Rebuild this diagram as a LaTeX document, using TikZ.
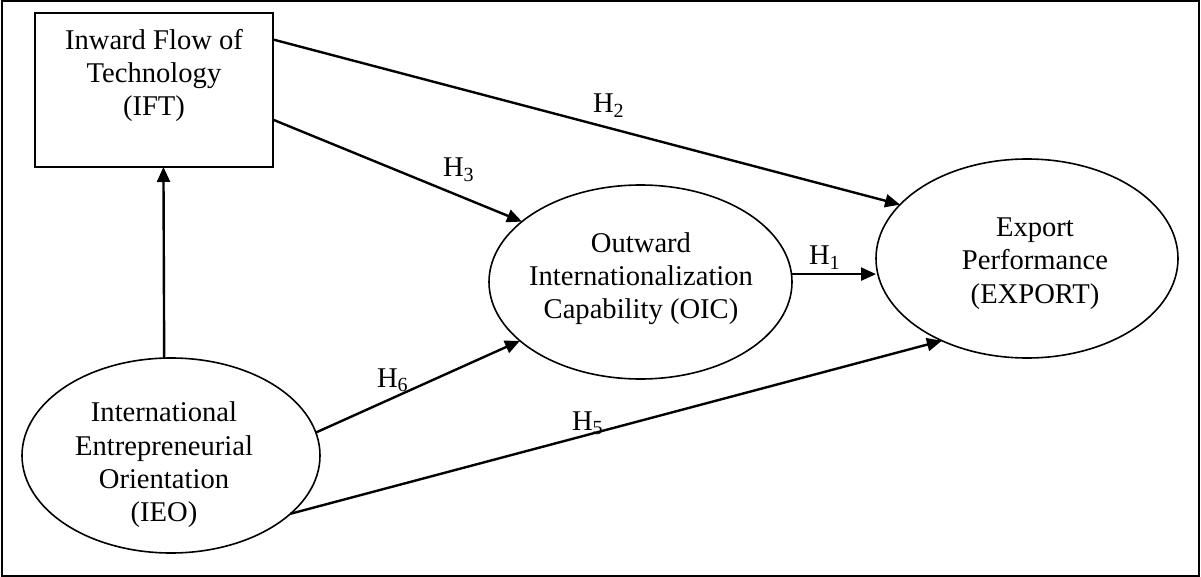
\documentclass[tikz,border=0pt]{standalone}
\usepackage{fontspec}
\setmainfont{Liberation Serif}
\usetikzlibrary{arrows.meta,shapes.geometric}
\begin{document}
\begin{tikzpicture}[x=1pt,y=-1pt,
  every node/.style={inner sep=0pt,outer sep=0pt},
  txt/.style={align=center,font=\fontsize{28.6}{33.2}\selectfont},
  hlab/.style={anchor=base west,font=\fontsize{28.6}{33.2}\selectfont},
  oval/.style={draw,ellipse,line width=1.6pt},
  arr/.style={line width=2.4pt,-{Triangle[length=15pt,width=13pt]}},
  frame/.style={draw,line width=2pt}]
\useasboundingbox (0,0) rectangle (1201,577);
\draw[frame] (1.5,1.5) rectangle (1198.5,575.5);
% nodes
\node[draw,line width=1.6pt,rectangle,minimum width=238pt,minimum height=154pt] (ift) at (154,90) {};
\node[oval,minimum width=298pt,minimum height=195pt] (ieo) at (171,455.5) {};
\node[oval,minimum width=303pt,minimum height=194pt] (oic) at (640.5,282) {};
\node[oval,minimum width=302pt,minimum height=199pt] (ept) at (1027,258.5) {};
% texts
\node[txt] (iftt) at (154,75.2) {Inward Flow of\\Technology\\(IFT)};
\node[txt] (ieot) at (164,464.8) {International\\Entrepreneurial\\Orientation\\(IEO)};
\node[txt] (oict) at (641,278.4) {Outward\\Internationalization\\Capability (OIC)};
\node[txt] (eptt) at (1035,263.6) {Export\\Performance\\(EXPORT)};
% connectors
\draw[arr] (ieo.94.1) -- (ift.277.4);
\draw[arr] (ift.23.6) -- (ept.157.6);
\draw[arr] (ift.-14.6) -- (oic.153.2);
\draw[arr] (oic.3.8) -- (oic.3.8 -| ept.west);
\draw[arr] (ieo.9.46) -- (oic.206.5);
\draw[arr] (ieo.334) -- (ept.224.5);
% labels
\node[hlab] (h2) at (593,113) {H\textsubscript{2}};
\node[hlab] (h3) at (443,177) {H\textsubscript{3}};
\node[hlab] (h1) at (809,265) {H\textsubscript{1}};
\node[hlab] (h6) at (377,387) {H\textsubscript{6}};
\node[hlab] (h5) at (572,430) {H\textsubscript{5}};
\end{tikzpicture}
\end{document}
